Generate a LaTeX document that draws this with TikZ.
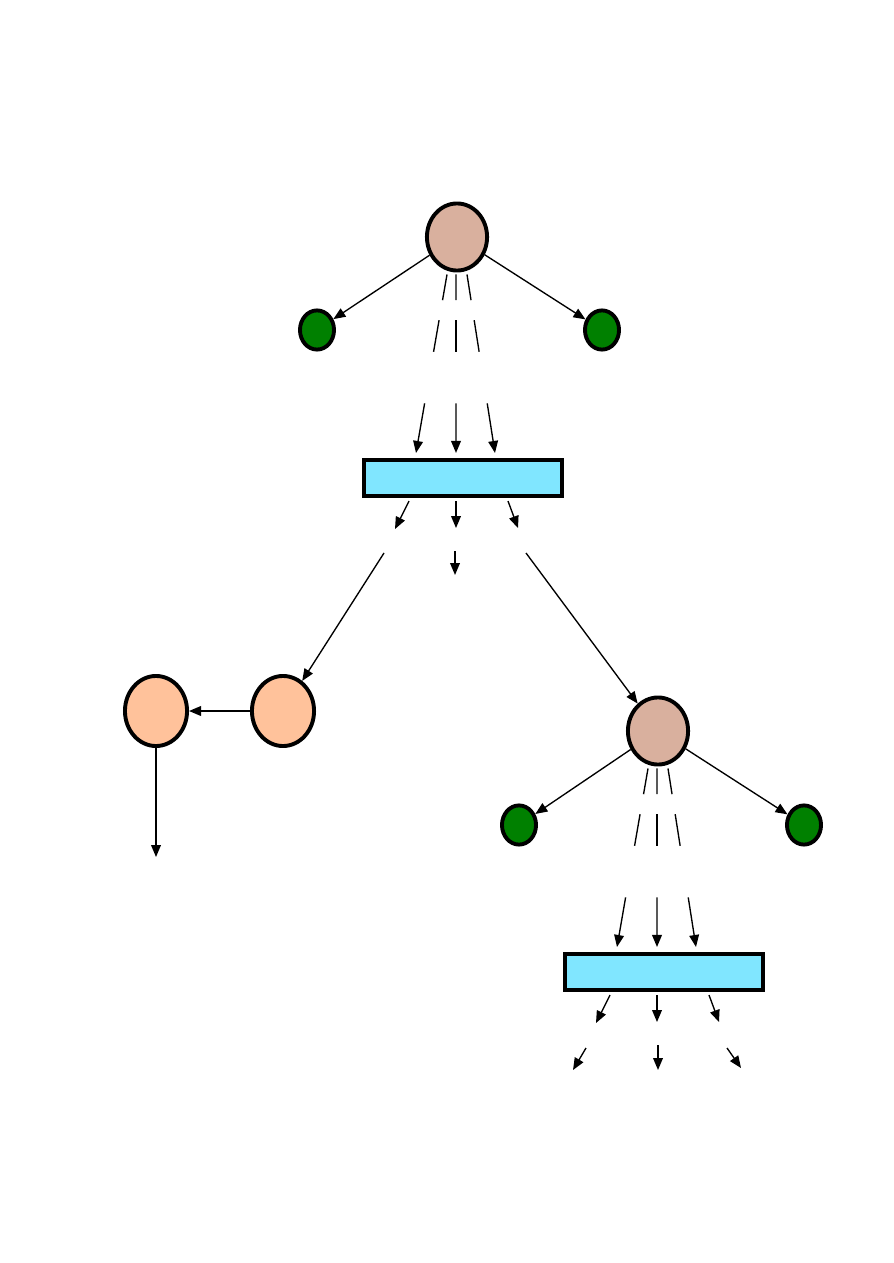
\documentclass[tikz,border=0pt]{standalone}
\usepackage{tikz}
\usetikzlibrary{arrows.meta, shapes.geometric, calc}

\definecolor{tanfill}{RGB}{217,176,158}
\definecolor{leafgreen}{RGB}{0,128,0}
\definecolor{peachfill}{RGB}{255,194,155}
\definecolor{skyfill}{RGB}{128,230,255}

\tikzset{
    bigball/.style={ellipse, draw, line width=2.6pt, fill=tanfill, inner sep=0pt,
        minimum width=40.1pt, minimum height=44.7pt},
    leaf/.style={ellipse, draw, line width=2.6pt, fill=leafgreen, inner sep=0pt,
        minimum width=22.7pt, minimum height=26.1pt},
    peachball/.style={ellipse, draw, line width=2.6pt, fill=peachfill, inner sep=0pt,
        minimum width=41.4pt, minimum height=46.7pt},
    bar/.style={rectangle, draw, line width=2.6pt, fill=skyfill, inner sep=0pt,
        minimum width=132.1pt, minimum height=24.1pt},
    link/.style={line width=0.9pt},
    arr/.style={link, -{Triangle[length=8pt, width=6.5pt]}}
}

\begin{document}
\begin{tikzpicture}[x=0.6666pt, y=-0.6666pt]
    \useasboundingbox (0,0) rectangle (893,1263);

    % Upper group
    \node[bigball] (t1) at (457,237) {};
    \node[leaf] (g1) at (317,330) {};
    \node[leaf] (g2) at (602,330) {};
    \node[bar] (r1) at (463,478) {};
    \draw[arr] (t1) -- (g1);
    \draw[arr] (t1) -- (g2);

    % Lower group
    \node[bigball] (t2) at (658,731) {};
    \node[leaf] (g3) at (519,825) {};
    \node[leaf] (g4) at (804,825) {};
    \node[bar] (r2) at (664,972) {};
    \draw[arr] (t2) -- (g3);
    \draw[arr] (t2) -- (g4);

    % Left pair
    \node[peachball] (o2) at (283,711) {};
    \node[peachball] (o1) at (156,711) {};
    \coordinate (o1end) at (156,857);
    \draw[arr] (o2) -- (o1);
    \draw[arr] (o1) -- (o1end);

    % Broken lines from ball to bar
    \foreach \src/\dst in {t1/r1, t2/r2} {
        \foreach \a/\b in {-10/-47, -1/-7, 10/32} {
            \coordinate (s) at ($(\src.south)+(\a,2)$);
            \coordinate (e) at ($(\dst.north)+(\b,-5)$);
            \draw[link] (s) -- ($(s)!0.144!(e)$);
            \draw[link] ($(s)!0.256!(e)$) -- ($(s)!0.433!(e)$);
            \draw[arr] ($(s)!0.722!(e)$) -- (e);
        }
    }

    % Short arrows under the bars
    \foreach \dst in {r1, r2} {
        \draw[arr] ($(\dst.south)+(-54,3)$) -- ++(-14,28);
        \draw[arr] ($(\dst.south)+(-7,3)$) -- ++(0,27);
        \draw[arr] ($(\dst.south)+(45,3)$) -- ++(10,27);
    }

    % Second row under the upper bar
    \coordinate (r1mid) at (455,551);
    \coordinate (r1left) at (384,553);
    \coordinate (r1right) at (526,553);
    \draw[arr] (r1mid) -- ++(0,24);
    \draw[arr] (r1left) -- (o2);
    \draw[arr] (r1right) -- (t2);

    % Second row under the lower bar
    \coordinate (r2left) at (586,1048);
    \coordinate (r2mid) at (658,1045);
    \coordinate (r2right) at (727,1048);
    \draw[arr] (r2left) -- ++(-13,22);
    \draw[arr] (r2mid) -- ++(0,25);
    \draw[arr] (r2right) -- ++(14,20);
\end{tikzpicture}
\end{document}
